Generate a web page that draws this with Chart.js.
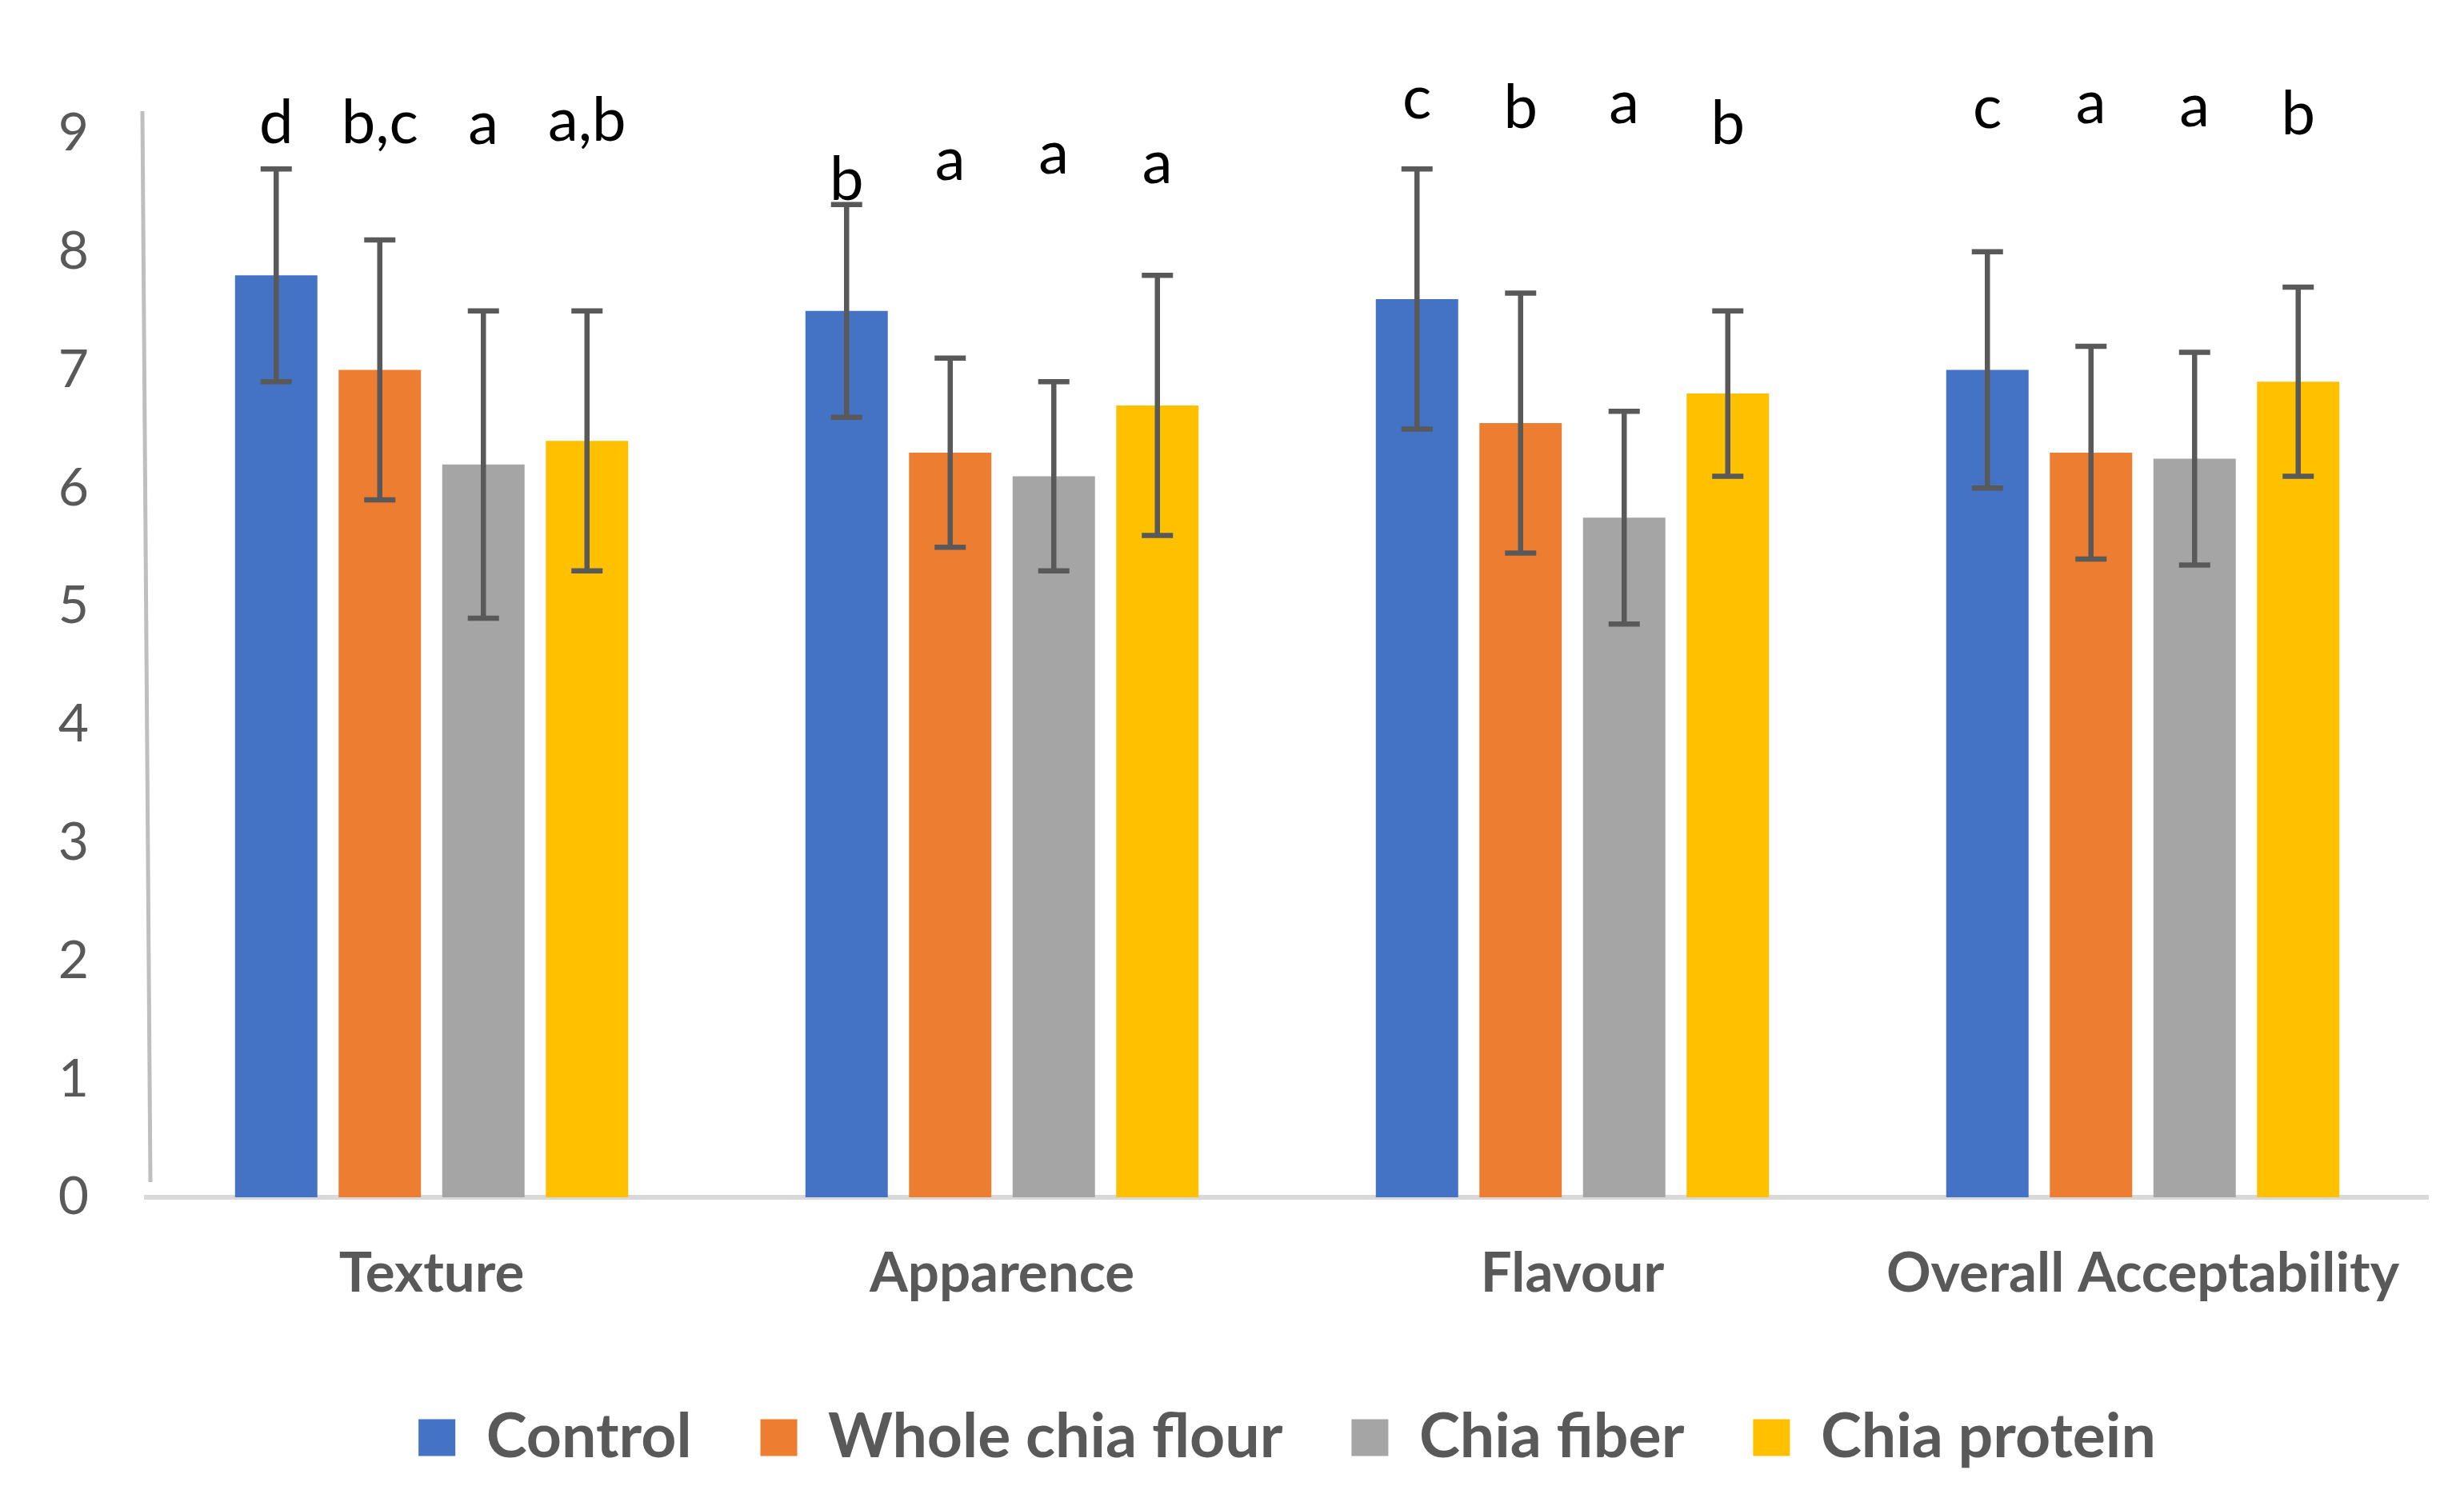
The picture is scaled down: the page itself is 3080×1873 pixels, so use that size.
<!DOCTYPE html>
<html><head><meta charset="utf-8">
<script src="https://cdn.jsdelivr.net/npm/chart.js@4.4.1/dist/chart.umd.min.js"></script>
<style>html,body{margin:0;padding:0;background:#fff;} #wrap{width:3080px;height:1873px;}</style>
</head><body><div id="wrap"><canvas id="c" width="3080" height="1873"></canvas></div>
<script>
const categories = ['Texture', 'Apparence', 'Flavour', 'Overall Acceptability'];
const seriesNames = ['Control', 'Whole chia flour', 'Chia fiber', 'Chia protein'];
const yTickValues = [0, 1, 2, 3, 4, 5, 6, 7, 8, 9];

const controlMean = [7.8, 7.5, 7.6, 7.0];
const controlSD   = [0.9, 0.9, 1.1, 1.0];
const flourMean   = [7.0, 6.3, 6.55, 6.3];
const flourSD     = [1.1, 0.8, 1.1, 0.9];
const fiberMean   = [6.2, 6.1, 5.75, 6.25];
const fiberSD     = [1.3, 0.8, 0.9, 0.9];
const proteinMean = [6.4, 6.7, 6.8, 6.9];
const proteinSD   = [1.1, 1.1, 0.7, 0.8];

const controlLetters = ['d', 'b', 'c', 'c'];
const flourLetters   = ['b,c', 'a', 'b', 'a'];
const fiberLetters   = ['a', 'a', 'a', 'a'];
const proteinLetters = ['a,b', 'a', 'b', 'b'];

// height (in score units) of each letter's baseline
const controlLetterLevel = [8.92, 8.44, 9.13, 9.05];
const flourLetterLevel   = [8.92, 8.61, 9.05, 9.09];
const fiberLetterLevel   = [8.91, 8.66, 9.09, 9.06];
const proteinLetterLevel = [8.94, 8.58, 8.91, 8.99];

const seriesColors = ['#4472C4', '#ED7D31', '#A5A5A5', '#FFC000'];

const errLetterPlugin = {
  id: 'errLetter',
  beforeDatasetsDraw(chart) {
    const {ctx, chartArea: a} = chart;
    ctx.save();
    ctx.strokeStyle = '#bfbfbf';
    ctx.lineWidth = 5;
    ctx.beginPath();
    ctx.moveTo(a.left - 5, a.top - 28);
    ctx.lineTo(a.left + 5, a.bottom - 19);
    ctx.stroke();
    ctx.restore();
  },
  afterDatasetsDraw(chart) {
    const {ctx} = chart;
    const ys = chart.scales.y;
    ctx.save();
    chart.data.datasets.forEach((ds, di) => {
      const meta = chart.getDatasetMeta(di);
      meta.data.forEach((bar, i) => {
        const m = ds.data[i], sd = ds.sd[i];
        const x = bar.x;
        const yt = ys.getPixelForValue(m + sd);
        const yb = ys.getPixelForValue(m - sd);
        ctx.strokeStyle = '#595959';
        ctx.lineWidth = 6.5;
        ctx.lineCap = 'butt';
        ctx.beginPath();
        ctx.moveTo(x, yt); ctx.lineTo(x, yb);
        ctx.moveTo(x - 19.5, yt); ctx.lineTo(x + 19.5, yt);
        ctx.moveTo(x - 19.5, yb); ctx.lineTo(x + 19.5, yb);
        ctx.stroke();
        ctx.fillStyle = '#000000';
        ctx.font = '76px Lato';
        ctx.textAlign = 'center';
        ctx.textBaseline = 'alphabetic';
        ctx.fillText(ds.letters[i], x, ys.getPixelForValue(ds.letterLevel[i]));
      });
    });
    ctx.restore();
  }
};

function build() {
  const datasets = [
    {label: seriesNames[0], data: controlMean, sd: controlSD, letters: controlLetters, letterLevel: controlLetterLevel},
    {label: seriesNames[1], data: flourMean, sd: flourSD, letters: flourLetters, letterLevel: flourLetterLevel},
    {label: seriesNames[2], data: fiberMean, sd: fiberSD, letters: fiberLetters, letterLevel: fiberLetterLevel},
    {label: seriesNames[3], data: proteinMean, sd: proteinSD, letters: proteinLetters, letterLevel: proteinLetterLevel}
  ].map((d, i) => Object.assign(d, {backgroundColor: seriesColors[i], borderWidth: 0}));

  new Chart(document.getElementById('c'), {
    type: 'bar',
    data: {labels: categories, datasets},
    options: {
      responsive: false,
      devicePixelRatio: 1,
      animation: false,
      layout: {padding: {left: 0, right: 45, top: 167, bottom: 27}},
      datasets: {bar: {categoryPercentage: 0.7265, barPercentage: 0.795}},
      scales: {
        x: {
          grid: {display: false, drawTicks: false},
          border: {display: true, color: '#d9d9d9', width: 6},
          ticks: {font: {family: 'Lato', weight: 'bold', size: 69}, color: '#595959', padding: 54},
          afterFit(s) { s.height = 176; }
        },
        y: {
          min: 0, max: 9,
          afterBuildTicks(s) { s.ticks = yTickValues.map(v => ({value: v})); },
          ticks: {stepSize: 1, font: {family: 'Lato', size: 66}, color: '#595959', padding: 72},
          grid: {display: false, drawTicks: false},
          border: {display: false},
          afterFit(s) { s.width = 183; }
        }
      },
      plugins: {
        legend: {
          position: 'bottom',
          fullSize: false,
          labels: {boxWidth: 46, boxHeight: 46, padding: 86, color: '#595959',
                   font: {family: 'Lato', weight: 'bold', size: 77}}
        },
        tooltip: {enabled: false}
      }
    },
    plugins: [errLetterPlugin]
  });
}

const fontsReady = document.fonts ? Promise.all([
  document.fonts.load('66px Lato'), document.fonts.load('bold 66px Lato')
]).catch(() => {}) : Promise.resolve();
Promise.race([fontsReady, new Promise(r => setTimeout(r, 1500))]).then(build);
</script>
</body></html>
